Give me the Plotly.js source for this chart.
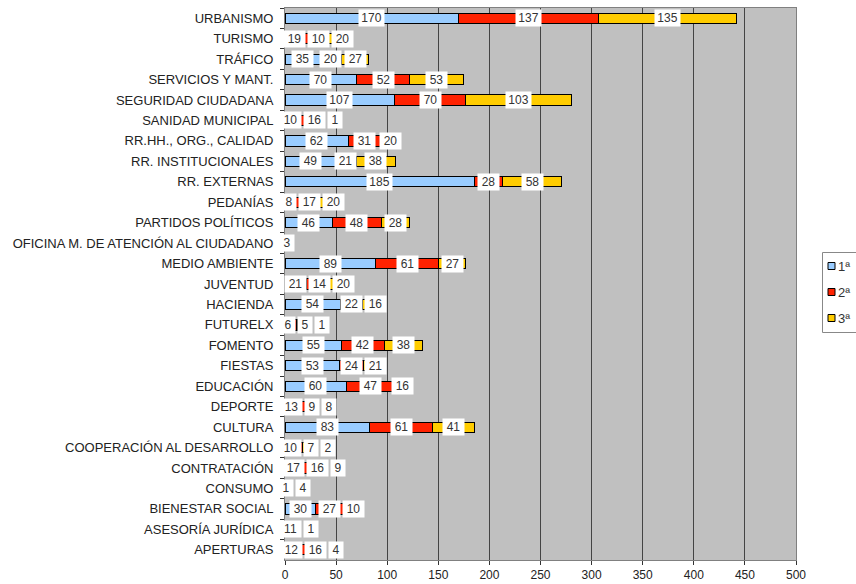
<!DOCTYPE html>
<html><head><meta charset="utf-8">
<script src="https://cdn.plot.ly/plotly-3.0.1.min.js"></script>
<style>html,body{margin:0;padding:0;background:#fff}#chart{width:856px;height:584px}</style>
</head><body><div id="chart"></div>
<script>
const categories = ["URBANISMO","TURISMO","TRÁFICO","SERVICIOS Y MANT.","SEGURIDAD CIUDADANA","SANIDAD MUNICIPAL","RR.HH., ORG., CALIDAD","RR. INSTITUCIONALES","RR. EXTERNAS","PEDANÍAS","PARTIDOS POLÍTICOS","OFICINA M. DE ATENCIÓN AL CIUDADANO","MEDIO AMBIENTE","JUVENTUD","HACIENDA","FUTURELX","FOMENTO","FIESTAS","EDUCACIÓN","DEPORTE","CULTURA","COOPERACIÓN AL DESARROLLO","CONTRATACIÓN","CONSUMO","BIENESTAR SOCIAL","ASESORÍA JURÍDICA","APERTURAS"];
const s1 = [170,19,35,70,107,10,62,49,185,8,46,3,89,21,54,6,55,53,60,13,83,10,17,1,30,11,12];
const s2 = [137,10,20,52,70,16,31,21,28,17,48,0,61,14,22,5,42,24,47,9,61,7,16,4,27,1,16];
const s3 = [135,20,27,53,103,1,20,38,58,20,28,0,27,20,16,1,38,21,16,8,41,2,9,0,10,0,4];
const seriesNames = ["1ª","2ª","3ª"];
const colors = ["#99CCFF","#FF2200","#FFCC00"];

const series = [s1,s2,s3];
const traces = series.map((vals,i)=>({
  type:'bar', orientation:'h', name:seriesNames[i], x:vals, y:categories,
  marker:{color:colors[i], line:{color:'#000', width:1}},
  hoverinfo:'x+y', showlegend:false
}));

// plot-area geometry (pixels) used for label spacing and the legend box
const L = 285, R = 796, T = 8, B = 560;
const pxPerUnit = (R-L)/500;
const px2paperX = p => (p-L)/(R-L);
const px2paperY = p => (B-p)/(B-T);

// value labels centred on segments, nudged right to avoid overlap
const boxW = d => d===1?14:(d===2?21:25);
const annotations = [];
categories.forEach((cat,ci)=>{
  let cum = 0, prevC = null, prevW = 0;
  series.forEach(vals=>{
    const v = vals[ci];
    if (v>0){
      const w = boxW(String(v).length);
      let c = (cum + v/2)*pxPerUnit;
      if (prevC!==null) c = Math.max(c, prevC + (prevW+w)/2 + 3);
      annotations.push({x:c/pxPerUnit, y:cat, xref:'x', yref:'y', text:String(v), showarrow:false,
        bgcolor:'#fff', width:w, height:16, borderpad:0,
        font:{family:'Liberation Sans Narrow, Arial Narrow, Arial, sans-serif', size:12, color:'#333'}});
      prevC = c; prevW = w;
    }
    cum += v;
  });
});

// custom legend
const shapes = [{type:'rect', xref:'paper', yref:'paper', x0:px2paperX(822.5), x1:px2paperX(870), y0:px2paperY(332.5), y1:px2paperY(252.5),
  fillcolor:'#fff', line:{color:'#888', width:1}, layer:'above'}];
const legendY = [266, 292, 318];
seriesNames.forEach((n,i)=>{
  shapes.push({type:'rect', xref:'paper', yref:'paper', x0:px2paperX(828), x1:px2paperX(835),
    y0:px2paperY(legendY[i]+3.5), y1:px2paperY(legendY[i]-3.5), fillcolor:colors[i], line:{color:'#000', width:1}, layer:'above'});
  annotations.push({xref:'paper', yref:'paper', x:px2paperX(836), y:px2paperY(legendY[i]), xanchor:'left', yanchor:'middle',
    text:n, showarrow:false, font:{size:13, color:'#333'}});
});

const layout = {
  width:856, height:584,
  margin:{l:L, r:856-R, t:T, b:584-B, autoexpand:false},
  paper_bgcolor:'#fff', plot_bgcolor:'#C0C0C0',
  barmode:'stack', bargap:0.5,
  font:{family:'Arial, Liberation Sans, sans-serif', size:12, color:'#222'},
  xaxis:{range:[0,500], dtick:50, tick0:0, showgrid:true, gridcolor:'#444', gridwidth:1,
    zeroline:false, showline:true, linecolor:'#808080', mirror:true, ticks:'outside', ticklen:4,
    tickcolor:'#333', tickfont:{size:12, color:'#222'}, fixedrange:true},
  yaxis:{autorange:'reversed', type:'category', showgrid:false, zeroline:false, showline:true,
    linecolor:'#808080', mirror:true, ticks:'outside', ticklen:4, tickcolor:'#333', tickson:'boundaries',
    ticklabelstandoff:8, tickfont:{size:13, color:'#222'}, fixedrange:true},
  showlegend:false,
  shapes:shapes,
  annotations:annotations
};
Plotly.newPlot('chart', traces, layout, {displayModeBar:false, staticPlot:true});
</script></body></html>
